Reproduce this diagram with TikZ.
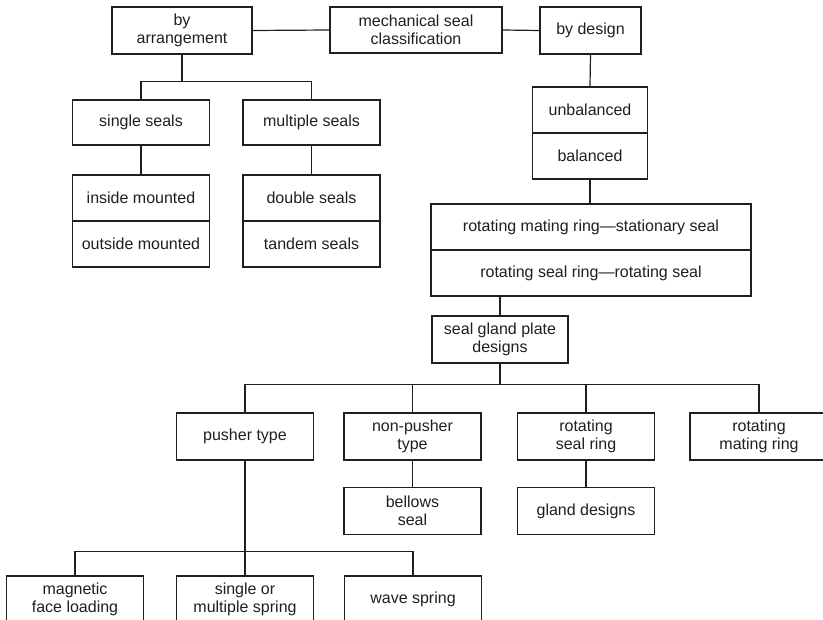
\documentclass[tikz,border=0pt]{standalone}
\usepackage{fontspec}
\setmainfont{Liberation Sans}
\usepackage{tikz}
\usetikzlibrary{positioning}

\begin{document}
\begin{tikzpicture}[x=1pt, y=-1pt,
  line width=1.2pt, color=black!88,
  box/.style={draw, align=center, inner sep=0pt,
    minimum width=137pt, minimum height=47pt,
    font=\fontsize{16}{18}\selectfont},
  cell/.style={box, minimum height=46pt}]
  \useasboundingbox (0,0) rectangle (823,620);
  \clip (0,0) rectangle (823,620);
  % ---- top row ----
  \node[box, minimum width=140pt] (arr) at (182,30.5) {by\\arrangement};
  \node[box, minimum width=172pt, minimum height=46pt] (msc) at (416,30) {mechanical seal\\classification};
  \node[box, minimum width=101pt] (des) at (590.5,30.5) {by design};
  \draw (arr.east) -- (msc.west);
  \draw (msc.east) -- (des.west);
  % ---- by arrangement ----
  \node[box, minimum height=45pt] (single) at (141,122.5) {single seals};
  \node[box, minimum height=45pt] (multi) at (311.5,122.5) {multiple seals};
  \node[cell] (inside) at (141,198) {inside mounted};
  \node[cell] (outside) at (141,244) {outside mounted};
  \node[cell] (double) at (311.5,198) {double seals};
  \node[cell] (tandem) at (311.5,244) {tandem seals};
  \draw (arr.south) -- ++(0,27) coordinate (j1);
  \draw (single.north) |- (j1) -| (multi.north);
  \draw (single.south) -- (inside.north);
  \draw (multi.south) -- (double.north);
  % ---- by design ----
  \node[cell, minimum width=115pt] (unbal) at (590,110) {unbalanced};
  \node[cell, minimum width=115pt] (bal) at (590,156) {balanced};
  \node[cell, minimum width=320pt] (rms) at (591,227) {rotating mating ring---stationary seal};
  \node[cell, minimum width=320pt] (rsr) at (591,273) {rotating seal ring---rotating seal};
  \node[box, minimum width=136pt] (gp) at (500,339.5) {seal gland plate\\designs};
  \draw (des.south) -- (unbal.north);
  \draw (bal.south) -- (bal.south |- rms.north);
  \draw (gp.north |- rsr.south) -- (gp.north);
  % ---- gland plate designs ----
  \node[box] (pusher) at (245,436.5) {pusher type};
  \node[box] (nonpush) at (412.5,436.5) {non-pusher\\type};
  \node[box] (rsring) at (586,436.5) {rotating\\seal ring};
  \node[box, minimum width=138pt] (rmring) at (759,436.5) {rotating\\mating ring};
  \node[box] (bellows) at (412.5,511) {bellows\\seal};
  \node[box] (glandd) at (586,511) {gland designs};
  \draw (gp.south) -- ++(0,21) coordinate (j2);
  \draw (pusher.north) |- (j2) -| (rmring.north);
  \draw (nonpush.north) -- (nonpush.north |- j2);
  \draw (rsring.north) -- (rsring.north |- j2);
  \draw (nonpush.south) -- (bellows.north);
  \draw (rsring.south) -- (glandd.north);
  % ---- pusher type ----
  \node[box] (mag) at (75,599.5) {magnetic\\face loading};
  \node[box] (spring) at (245,599.5) {single or\\multiple spring};
  \node[box] (wave) at (413,599.5) {wave spring};
  \draw (pusher.south) -- ++(0,91) coordinate (j3);
  \draw (mag.north) |- (j3) -| (wave.north);
  \draw (spring.north) -- (j3);
\end{tikzpicture}
\end{document}
